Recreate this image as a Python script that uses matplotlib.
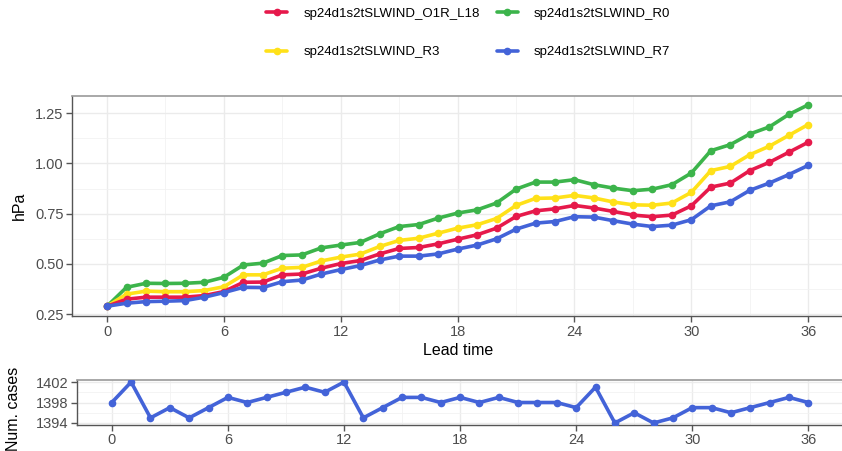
import matplotlib
matplotlib.use("Agg")
import matplotlib.pyplot as plt
from matplotlib.ticker import MultipleLocator, FixedLocator

plt.rcParams['font.family'] = ['Liberation Sans', 'DejaVu Sans']

lead = list(range(37))

o1r_l18 = [0.29, 0.325, 0.335, 0.335, 0.335, 0.343, 0.363, 0.409, 0.41, 0.446, 0.45,
           0.479, 0.502, 0.517, 0.55, 0.577, 0.582, 0.60, 0.623, 0.645, 0.678, 0.736,
           0.764, 0.774, 0.791, 0.778, 0.761, 0.743, 0.735, 0.743, 0.789, 0.882,
           0.902, 0.964, 1.005, 1.055, 1.105]
r0 = [0.29, 0.384, 0.404, 0.403, 0.404, 0.409, 0.434, 0.495, 0.504, 0.542, 0.545,
      0.58, 0.594, 0.607, 0.65, 0.686, 0.696, 0.728, 0.753, 0.769, 0.803, 0.872,
      0.907, 0.907, 0.919, 0.894, 0.877, 0.864, 0.872, 0.894, 0.952, 1.063,
      1.093, 1.146, 1.181, 1.243, 1.291]
r3 = [0.29, 0.35, 0.365, 0.362, 0.362, 0.368, 0.387, 0.446, 0.446, 0.479, 0.483,
      0.515, 0.534, 0.549, 0.587, 0.617, 0.628, 0.653, 0.678, 0.695, 0.726, 0.791,
      0.826, 0.828, 0.841, 0.828, 0.808, 0.794, 0.792, 0.803, 0.856, 0.964,
      0.985, 1.043, 1.085, 1.139, 1.193]
r7 = [0.29, 0.305, 0.313, 0.315, 0.318, 0.335, 0.358, 0.384, 0.383, 0.412, 0.42,
      0.45, 0.472, 0.492, 0.52, 0.539, 0.539, 0.55, 0.574, 0.594, 0.625, 0.673,
      0.703, 0.711, 0.735, 0.733, 0.715, 0.698, 0.686, 0.693, 0.72, 0.789,
      0.809, 0.866, 0.902, 0.944, 0.99]
num_cases = [1398, 1402, 1395, 1397, 1395, 1397, 1399, 1398, 1399, 1400, 1401,
             1400, 1402, 1395, 1397, 1399, 1399, 1398, 1399, 1398, 1399, 1398,
             1398, 1398, 1397, 1401, 1394, 1396, 1394, 1395, 1397, 1397, 1396,
             1397, 1398, 1399, 1398]
cases_ticks = [1394, 1398, 1402]

series = [
    ("sp24d1s2tSLWIND_O1R_L18", o1r_l18, "#E6194B"),
    ("sp24d1s2tSLWIND_R3", r3, "#FFE119"),
    ("sp24d1s2tSLWIND_R0", r0, "#3CB44B"),
    ("sp24d1s2tSLWIND_R7", r7, "#4363D8"),
]
draw_order = [2, 1, 0, 3]  # green, yellow, red, blue on top

fig = plt.figure(figsize=(8.42, 4.51), dpi=100)
ax = fig.add_axes([0.0855, 0.2987, 0.916, 0.4885])
ax2 = fig.add_axes([0.0914, 0.0576, 0.910, 0.0998])


def style(a):
    a.set_facecolor("white")
    a.grid(True, which="major", color="#EBEBEB", lw=1.0, zorder=0)
    a.grid(True, which="minor", color="#F2F2F2", lw=0.6, zorder=0)
    a.set_axisbelow(True)
    for s in ["top", "right"]:
        a.spines[s].set_color("#9A9A9A")
        a.spines[s].set_linewidth(1.2)
    for s in ["left", "bottom"]:
        a.spines[s].set_color("#555555")
        a.spines[s].set_linewidth(1.0)
    a.tick_params(which="major", length=4, width=1, color="#555555",
                  labelcolor="#4D4D4D", labelsize=10.5, pad=2)
    a.tick_params(which="minor", length=0)
    a.xaxis.set_major_locator(MultipleLocator(6))
    a.xaxis.set_minor_locator(MultipleLocator(3))
    a.set_xlim(-1.8, 37.8)


style(ax)
handles = {}
for i in draw_order:
    name, vals, col = series[i]
    h, = ax.plot(lead, vals, color=col, lw=2.6, marker="o", ms=4.5,
                 label=name, zorder=3, solid_capstyle="round")
    handles[i] = h
ax.set_ylim(0.24, 1.335)
ax.yaxis.set_major_locator(MultipleLocator(0.25))
ax.yaxis.set_minor_locator(MultipleLocator(0.125))
ax.yaxis.set_major_formatter(lambda v, p: f"{v:.2f}")
ax.set_xlabel("Lead time", fontsize=11.5, labelpad=3)
ax.set_ylabel("hPa", fontsize=11.5, labelpad=6)

style(ax2)
ax2.plot(lead, num_cases, color="#4363D8", lw=2.6, marker="o", ms=4.5,
         zorder=3)
ax2.set_ylim(1393.6, 1402.4)
ax2.yaxis.set_major_locator(FixedLocator(cases_ticks))
ax2.yaxis.set_minor_locator(FixedLocator([1396, 1400]))
ax2.set_ylabel("Num. cases", fontsize=11.5, labelpad=4)
ax2.yaxis.set_label_coords(-0.073, 0.35)

fig.legend([handles[i] for i in range(4)], [s[0] for s in series],
           loc="upper center", bbox_to_anchor=(0.556, 1.01), ncol=2,
           frameon=False, fontsize=9.5, handlelength=1.6, handletextpad=1.2,
           columnspacing=1.3, labelspacing=2.0)

fig.savefig("out.png", dpi=100)
